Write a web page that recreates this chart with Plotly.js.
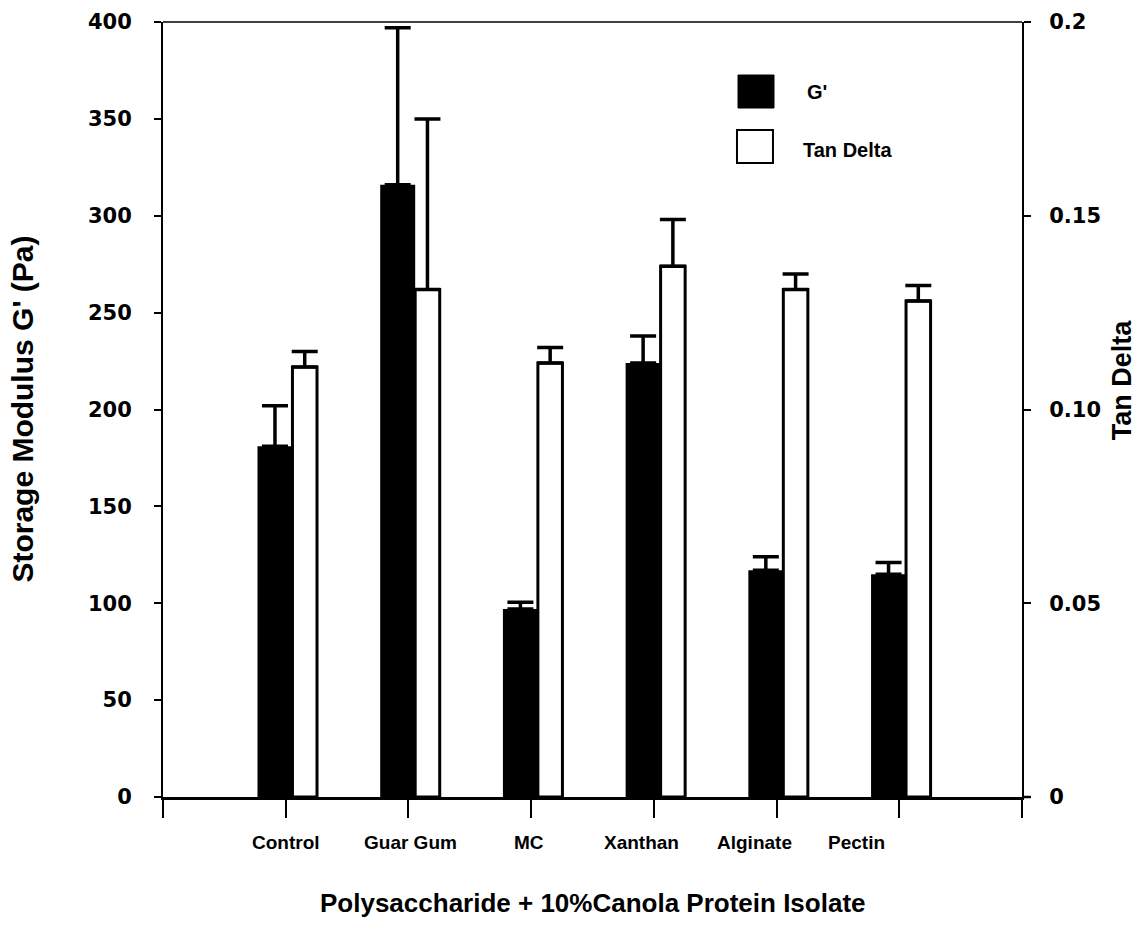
<!DOCTYPE html>
<html>
<head>
<meta charset="utf-8">
<script src="https://cdn.plot.ly/plotly-3.0.1.min.js"></script>
<style>html,body{margin:0;padding:0;background:#fff;}#chart{width:1136px;height:945px;}</style>
</head>
<body>
<div id="chart"></div>
<script>
// ---- data ----
const categories = ['Control', 'Guar Gum', 'MC', 'Xanthan', 'Alginate', 'Pectin'];
const gPrime = [181, 316, 97, 224, 117, 115];
const gPrimeErr = [21, 81, 3.5, 14, 7, 6];
const tanDelta = [0.111, 0.131, 0.112, 0.137, 0.131, 0.128];
const tanDeltaErr = [0.004, 0.044, 0.004, 0.012, 0.004, 0.004];
const leftTicks = [0, 50, 100, 150, 200, 250, 300, 350, 400];
const rightTickVals = [0, 0.05, 0.10, 0.15, 0.2];
const rightTickText = ['0', '0.05', '0.10', '0.15', '0.2'];
const seriesNames = ["G'", 'Tan Delta'];

// ---- layout helpers ----
const pos = categories.map((c, i) => i + 1);
const labelShift = [0, 0.02, -0.02, -0.1, -0.18, -0.35];
const zeros = categories.map(() => 0);
const boldArial = {family: 'Liberation Sans, Arial, sans-serif', weight: 'bold', color: '#000'};
const tickFont = {family: 'DejaVu Sans, sans-serif', weight: 'bold', size: 21, color: '#000'};

const traces = [
  {
    type: 'bar', name: seriesNames[0], x: pos, y: gPrime,
    offset: -0.23, width: 0.285,
    marker: {color: '#000', line: {width: 0}},
    error_y: {type: 'data', symmetric: false, array: gPrimeErr, arrayminus: zeros,
              color: '#000', thickness: 3.5, width: 13},
    showlegend: false
  },
  {
    type: 'bar', name: seriesNames[1], x: pos, y: tanDelta, yaxis: 'y2',
    offset: 0.055, width: 0.2,
    marker: {color: '#fff', line: {color: '#000', width: 3}},
    error_y: {type: 'data', symmetric: false, array: tanDeltaErr, arrayminus: zeros,
              color: '#000', thickness: 3.5, width: 13},
    showlegend: false
  }
];

const annotations = categories.map((c, i) => ({
  xref: 'x', yref: 'paper', x: pos[i] + labelShift[i], y: -0.059,
  text: c, showarrow: false, xanchor: 'center', yanchor: 'middle',
  font: Object.assign({size: 19}, boldArial)
}));
annotations.push(
  {xref: 'paper', yref: 'paper', x: -0.164, y: 0.5, text: "Storage Modulus G' (Pa)", textangle: -90,
   showarrow: false, xanchor: 'center', yanchor: 'middle', font: Object.assign({size: 30}, boldArial)},
  {xref: 'paper', yref: 'paper', x: 1.1164, y: 0.539, text: 'Tan Delta', textangle: -90,
   showarrow: false, xanchor: 'center', yanchor: 'middle', font: Object.assign({size: 27}, boldArial)},
  {xref: 'paper', yref: 'paper', x: 0.5, y: -0.137, text: 'Polysaccharide + 10%Canola Protein Isolate',
   showarrow: false, xanchor: 'center', yanchor: 'middle', font: Object.assign({size: 26}, boldArial)},
  {xref: 'paper', yref: 'paper', x: 0.7474, y: 0.9097, text: seriesNames[0],
   showarrow: false, xanchor: 'left', yanchor: 'middle', font: Object.assign({size: 20}, boldArial)},
  {xref: 'paper', yref: 'paper', x: 0.7427, y: 0.8348, text: seriesNames[1],
   showarrow: false, xanchor: 'left', yanchor: 'middle', font: Object.assign({size: 20}, boldArial)}
);

const shapes = [
  {type: 'line', xref: 'paper', yref: 'paper', x0: 0, x1: 1, y0: 1, y1: 1, line: {color: '#000', width: 1.5}},
  {type: 'line', xref: 'paper', yref: 'paper', x0: 1, x1: 1.01, y0: 0, y1: 0, line: {color: '#000', width: 2.5}},
  {type: 'rect', xref: 'paper', yref: 'paper', x0: 0.6694, x1: 0.7113, y0: 0.889, y1: 0.9316,
   fillcolor: '#000', line: {color: '#000', width: 1}},
  {type: 'rect', xref: 'paper', yref: 'paper', x0: 0.6682, x1: 0.7101, y0: 0.8181, y1: 0.8606,
   fillcolor: '#fff', line: {color: '#000', width: 2}}
];

const layout = {
  width: 1136, height: 945,
  margin: {l: 163, r: 114, t: 22, b: 148, pad: 0},
  paper_bgcolor: '#fff', plot_bgcolor: '#fff',
  barmode: 'overlay',
  showlegend: false,
  xaxis: {
    range: [0, 7], tickmode: 'array', tickvals: [0, 1, 2, 3, 4, 5, 6, 7], showticklabels: false,
    ticks: 'outside', ticklen: 18, tickwidth: 2, tickcolor: '#000',
    showline: true, linecolor: '#000', linewidth: 2.5, showgrid: false, zeroline: false, fixedrange: true
  },
  yaxis: {
    range: [0, 400], tickmode: 'array', tickvals: leftTicks,
    ticks: 'outside', ticklen: 7, tickwidth: 2, tickcolor: '#000', ticklabelstandoff: 18,
    showline: true, linecolor: '#000', linewidth: 2, showgrid: false, zeroline: false,
    tickfont: tickFont, fixedrange: true
  },
  yaxis2: {
    overlaying: 'y', side: 'right', range: [0, 0.2], tickmode: 'array',
    tickvals: rightTickVals, ticktext: rightTickText,
    ticks: 'outside', ticklen: 7, tickwidth: 2, tickcolor: '#000', ticklabelstandoff: 14,
    showline: true, linecolor: '#000', linewidth: 2, showgrid: false, zeroline: false,
    tickfont: tickFont, fixedrange: true
  },
  annotations: annotations,
  shapes: shapes
};

Plotly.newPlot('chart', traces, layout, {displayModeBar: false, staticPlot: true});
</script>
</body>
</html>
